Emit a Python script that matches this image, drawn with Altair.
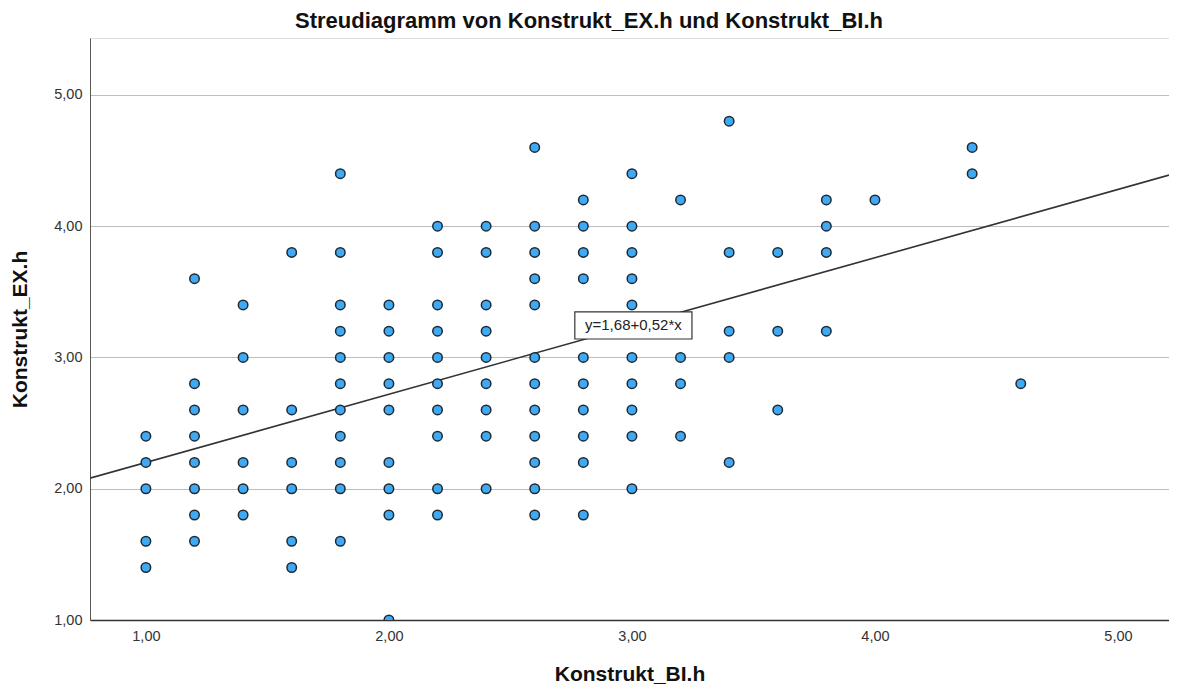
import altair as alt
import pandas as pd

# ---- data ----
col_x = [1.0, 1.2, 1.4, 1.6, 1.8, 2.0, 2.2, 2.4, 2.6, 2.8, 3.0, 3.2, 3.4, 3.6, 3.8, 4.0, 4.4, 4.6]
y_100 = [2.4, 2.2, 2.0, 1.6, 1.4]
y_120 = [3.6, 2.8, 2.6, 2.4, 2.2, 2.0, 1.8, 1.6]
y_140 = [3.4, 3.0, 2.6, 2.2, 2.0, 1.8]
y_160 = [3.8, 2.6, 2.2, 2.0, 1.6, 1.4]
y_180 = [4.4, 3.8, 3.4, 3.2, 3.0, 2.8, 2.6, 2.4, 2.2, 2.0, 1.6]
y_200 = [3.4, 3.2, 3.0, 2.8, 2.6, 2.2, 2.0, 1.8, 1.0]
y_220 = [4.0, 3.8, 3.4, 3.2, 3.0, 2.8, 2.6, 2.4, 2.0, 1.8]
y_240 = [4.0, 3.8, 3.4, 3.2, 3.0, 2.8, 2.6, 2.4, 2.0]
y_260 = [4.6, 4.0, 3.8, 3.6, 3.4, 3.0, 2.8, 2.6, 2.4, 2.2, 2.0, 1.8]
y_280 = [4.2, 4.0, 3.8, 3.6, 3.0, 2.8, 2.6, 2.4, 2.2, 1.8]
y_300 = [4.4, 4.0, 3.8, 3.6, 3.4, 3.0, 2.8, 2.6, 2.4, 2.0]
y_320 = [4.2, 3.0, 2.8, 2.4]
y_340 = [4.8, 3.8, 3.2, 3.0, 2.2]
y_360 = [3.8, 3.2, 2.6]
y_380 = [4.2, 4.0, 3.8, 3.2]
y_400 = [4.2]
y_440 = [4.6, 4.4]
y_460 = [2.8]
col_y = [y_100, y_120, y_140, y_160, y_180, y_200, y_220, y_240, y_260, y_280,
         y_300, y_320, y_340, y_360, y_380, y_400, y_440, y_460]

x_domain = [0.77, 5.21]
y_domain = [1.0, 5.434]
y_ticks = [1.0, 2.0, 3.0, 4.0, 5.0]
x_ticks = [1.0, 2.0, 3.0, 4.0, 5.0]

intercept = 1.68
slope = 0.52
fit_label = "y=1,68+0,52*x"
label_box_x = [2.765, 3.247]
label_box_y = [3.141, 3.347]

title_text = "Streudiagramm von Konstrukt_EX.h und Konstrukt_BI.h"
x_title = "Konstrukt_BI.h"
y_title = "Konstrukt_EX.h"

# ---- tables ----
pts = pd.DataFrame(
    [{"x": cx, "y": cy} for cx, ys in zip(col_x, col_y) for cy in ys]
)
fit = pd.DataFrame({"x": x_domain})
box = pd.DataFrame({"x": [label_box_x[0]], "x2": [label_box_x[1]],
                    "y": [label_box_y[0]], "y2": [label_box_y[1]],
                    "label": [fit_label]})

FONT = "Liberation Sans"
label_expr = "replace(format(datum.value, '.2f'), '.', ',')"

xscale = alt.Scale(domain=x_domain, nice=False, zero=False)
yscale = alt.Scale(domain=y_domain, nice=False, zero=False)

xaxis = alt.Axis(values=x_ticks, labelExpr=label_expr, grid=False, ticks=False,
                 domainColor="#333333", domainWidth=1.6, labelFont=FONT,
                 labelFontSize=14.5, labelColor="#333333", labelPadding=9,
                 title=x_title, titleFont=FONT, titleFontSize=21,
                 titleFontWeight="bold", titleColor="#111111",
                 titleY=60, titleBaseline="alphabetic")
yaxis = alt.Axis(values=y_ticks, labelExpr=label_expr, grid=True,
                 gridColor="#bdbdbd", gridWidth=1, ticks=False,
                 domainColor="#555555", domainWidth=1, labelFont=FONT,
                 labelFontSize=14.5, labelColor="#333333", labelPadding=8,
                 title=y_title, titleFont=FONT, titleFontSize=21,
                 titleFontWeight="bold", titleColor="#111111",
                 titleX=-70, titleBaseline="middle")

line = alt.Chart(fit).transform_calculate(
    yfit=f"{intercept} + {slope} * datum.x"
).mark_line(color="#333333", strokeWidth=1.6, clip=True).encode(
    x=alt.X("x:Q", scale=xscale, axis=xaxis),
    y=alt.Y("yfit:Q", scale=yscale, axis=yaxis),
)

points = alt.Chart(pts).mark_point(
    shape="circle", filled=True, size=90, fill="#3fa9f3", fillOpacity=1,
    stroke="#1e2a33", strokeWidth=1.5, clip=True
).encode(
    x=alt.X("x:Q", scale=xscale),
    y=alt.Y("y:Q", scale=yscale),
)

rect = alt.Chart(box).mark_rect(fill="white", stroke="#333333", strokeWidth=1.2).encode(
    x="x:Q", x2="x2:Q", y="y:Q", y2="y2:Q"
)
txt = alt.Chart(box).transform_calculate(
    xc="(datum.x + datum.x2) / 2", yc="(datum.y + datum.y2) / 2"
).mark_text(font=FONT, fontSize=15, color="#222222", baseline="middle", align="center").encode(
    x="xc:Q", y="yc:Q", text="label:N"
)

chart = alt.layer(line, points, rect, txt).properties(
    width=1079, height=582,
    title=alt.TitleParams(title_text, font=FONT, fontSize=22, fontWeight="bold",
                          color="#111111", anchor="middle", frame="bounds", offset=5),
    autosize=alt.AutoSizeParams(type="none"),
    padding={"left": 82, "top": 30, "right": 0, "bottom": 64},
).configure_view(stroke=None).configure(background="white")

chart.save("out.html", embed_options={"renderer": "svg", "actions": False})
